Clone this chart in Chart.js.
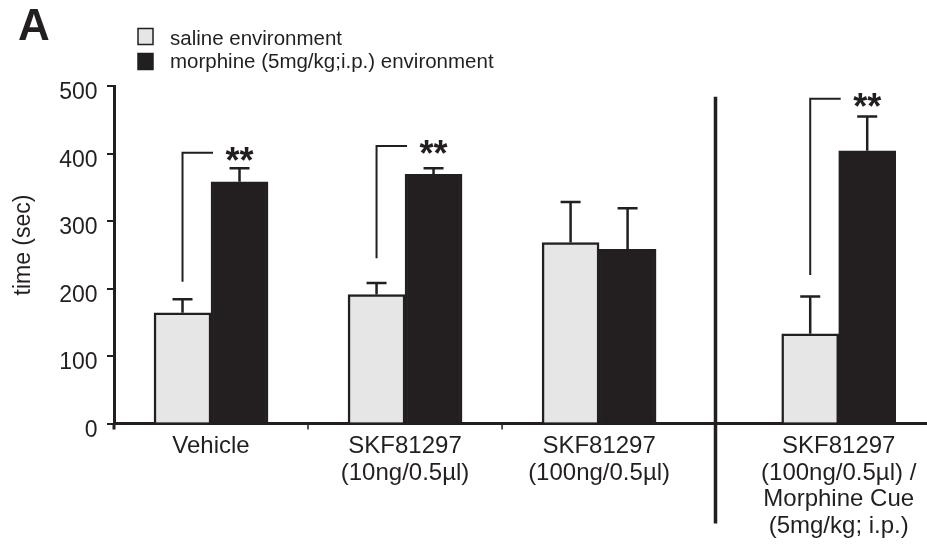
<!DOCTYPE html>
<html>
<head>
<meta charset="utf-8">
<script src="https://cdn.jsdelivr.net/npm/chart.js@4/dist/chart.umd.min.js"></script>
<style>
  body { margin: 0; background: #fff; }
  #wrap { width: 927px; height: 548px; position: relative; }
</style>
</head>
<body>
<div id="wrap"><canvas id="grafico"></canvas></div>
<script>
// valores (tempo em segundos, media +- erro)
const groups = [
    ['Vehicle'],
    ['SKF81297', '(10ng/0.5µl)'],
    ['SKF81297', '(100ng/0.5µl)'],
    ['SKF81297', '(100ng/0.5µl) /', 'Morphine Cue', '(5mg/kg; i.p.)']
];
const seriesNames = ['saline environment', 'morphine (5mg/kg;i.p.) environment'];
const salineMean = [164, 191, 268, 133];
const salineErr = [20, 17, 60, 55];
const morphineMean = [358, 369, 258, 404];
const morphineErr = [20, 9, 61, 51];
const sigLow = [210, 245, null, 220];   // base do colchete de significancia
const sigHigh = [401, 411, null, 481];  // topo do colchete
const sigText = ['**', '**', '', '**'];
const yTicks = [0, 100, 200, 300, 400, 500];

// layout (posicao dos grupos no eixo x linear)
const groupPos = [0, 1, 2, 3.235];
const sepPos = 2.6;
const sepTop = 484;

const dark = '#231f20';
const light = '#e6e6e6';
const fontFam = '"Liberation Sans", Arial, Helvetica, sans-serif';
Chart.defaults.font.family = fontFam;
Chart.defaults.color = dark;

const extras = {
    id: 'extras',
    afterDatasetsDraw(chart) {
        const ctx = chart.ctx, xs = chart.scales.x, ys = chart.scales.y, area = chart.chartArea;
        const errs = [salineErr, morphineErr];
        ctx.save();
        ctx.strokeStyle = dark;
        ctx.fillStyle = dark;

        // barras de erro
        ctx.lineWidth = 2.5;
        [0, 1].forEach(function (d) {
            chart.getDatasetMeta(d).data.forEach(function (bar, i) {
                const val = chart.data.datasets[d].data[i].y;
                const top = ys.getPixelForValue(val + errs[d][i]);
                ctx.beginPath();
                ctx.moveTo(bar.x, bar.y);
                ctx.lineTo(bar.x, top);
                ctx.moveTo(bar.x - 10, top);
                ctx.lineTo(bar.x + 10, top);
                ctx.stroke();
            });
        });

        // colchetes e asteriscos
        const m0 = chart.getDatasetMeta(0).data, m1 = chart.getDatasetMeta(1).data;
        ctx.lineWidth = 2;
        ctx.font = 'bold 36px ' + fontFam;
        ctx.textAlign = 'center';
        ctx.textBaseline = 'alphabetic';
        for (let i = 0; i < groups.length; i++) {
            if (sigLow[i] === null) continue;
            const x1 = m0[i].x;
            const x2 = xs.getPixelForValue(groupPos[i]) + 2;
            const yl = ys.getPixelForValue(sigLow[i]);
            const yh = ys.getPixelForValue(sigHigh[i]);
            ctx.beginPath();
            ctx.moveTo(x1, yl);
            ctx.lineTo(x1, yh);
            ctx.lineTo(x2, yh);
            ctx.stroke();
            ctx.fillText(sigText[i], m1[i].x, yh + 20);
        }

        // linha separadora
        const sx = xs.getPixelForValue(sepPos);
        ctx.lineWidth = 3.5;
        ctx.beginPath();
        ctx.moveTo(sx, ys.getPixelForValue(sepTop));
        ctx.lineTo(sx, area.bottom + 100);
        ctx.stroke();

        // pequenos ticks entre grupos
        ctx.lineWidth = 1.5;
        [0.5, 1.5].forEach(function (v) {
            const px = xs.getPixelForValue(v);
            ctx.beginPath();
            ctx.moveTo(px, area.bottom);
            ctx.lineTo(px, area.bottom + 6);
            ctx.stroke();
        });
        ctx.lineWidth = 3;
        ctx.beginPath();
        ctx.moveTo(area.left, area.bottom);
        ctx.lineTo(area.left, area.bottom + 6);
        ctx.stroke();
        ctx.restore();
    },
    afterDraw(chart) {
        const ctx = chart.ctx;
        ctx.save();
        ctx.fillStyle = dark;
        ctx.strokeStyle = dark;

        // letra do painel
        ctx.font = 'bold 44px ' + fontFam;
        ctx.textAlign = 'left';
        ctx.textBaseline = 'alphabetic';
        ctx.fillText('A', 18, 40);

        // legenda
        const ds = chart.data.datasets;
        const rows = [{ y: 28.5, base: 45 }, { y: 53.5, base: 68 }];
        ctx.font = '20.5px ' + fontFam;
        ds.forEach(function (d, i) {
            ctx.fillStyle = d.backgroundColor;
            ctx.fillRect(138, rows[i].y, 15, 16);
            ctx.lineWidth = 1.5;
            ctx.strokeStyle = dark;
            ctx.strokeRect(138, rows[i].y, 15, 16);
            ctx.fillStyle = dark;
            ctx.fillText(d.label, 170, rows[i].base);
        });

        // titulo do eixo y
        ctx.translate(23.5, 245);
        ctx.rotate(-Math.PI / 2);
        ctx.font = '23px ' + fontFam;
        ctx.textAlign = 'center';
        ctx.textBaseline = 'middle';
        ctx.fillText('time (sec)', 0, 0);
        ctx.restore();
    }
};

new Chart(document.getElementById('grafico'), {
    type: 'bar',
    data: {
        datasets: [{
            label: seriesNames[0],
            data: salineMean.map(function (v, i) { return { x: groupPos[i], y: v }; }),
            backgroundColor: light,
            borderColor: dark,
            borderWidth: 2.5,
            barThickness: 57
        }, {
            label: seriesNames[1],
            data: morphineMean.map(function (v, i) { return { x: groupPos[i], y: v }; }),
            backgroundColor: dark,
            borderColor: dark,
            borderWidth: 2.5,
            barThickness: 57
        }]
    },
    options: {
        responsive: true,
        maintainAspectRatio: false,
        animation: false,
        layout: { padding: { top: 86, left: 0, right: 0, bottom: 0 } },
        plugins: {
            legend: { display: false },
            tooltip: { enabled: false }
        },
        scales: {
            x: {
                type: 'linear',
                min: -0.5,
                max: 3.69,
                offset: false,
                grid: { display: false, drawTicks: false, offset: false },
                border: { display: true, color: dark, width: 3 },
                afterBuildTicks: function (s) { s.ticks = groupPos.map(function (v) { return { value: v }; }); },
                afterFit: function (s) { s.height = 124.5; s.paddingLeft = 0; s.paddingRight = 0; },
                ticks: {
                    autoSkip: false,
                    maxRotation: 0,
                    padding: 10,
                    font: { size: 24, lineHeight: 1.1 },
                    color: dark,
                    callback: function (v, i) { return groups[i]; }
                }
            },
            y: {
                min: 0,
                max: 500,
                afterBuildTicks: function (s) { s.ticks = yTicks.map(function (v) { return { value: v }; }); },
                afterFit: function (s) { s.width = 114; s.paddingTop = 0; s.paddingBottom = 0; },
                grid: { drawOnChartArea: false, drawTicks: true, tickLength: 7, color: dark, lineWidth: 2 },
                border: { display: true, color: dark, width: 3 },
                ticks: {
                    padding: 9.5,
                    labelOffset: 7,
                    font: { size: 23 },
                    color: dark
                }
            }
        }
    },
    plugins: [extras]
});
</script>
</body>
</html>
